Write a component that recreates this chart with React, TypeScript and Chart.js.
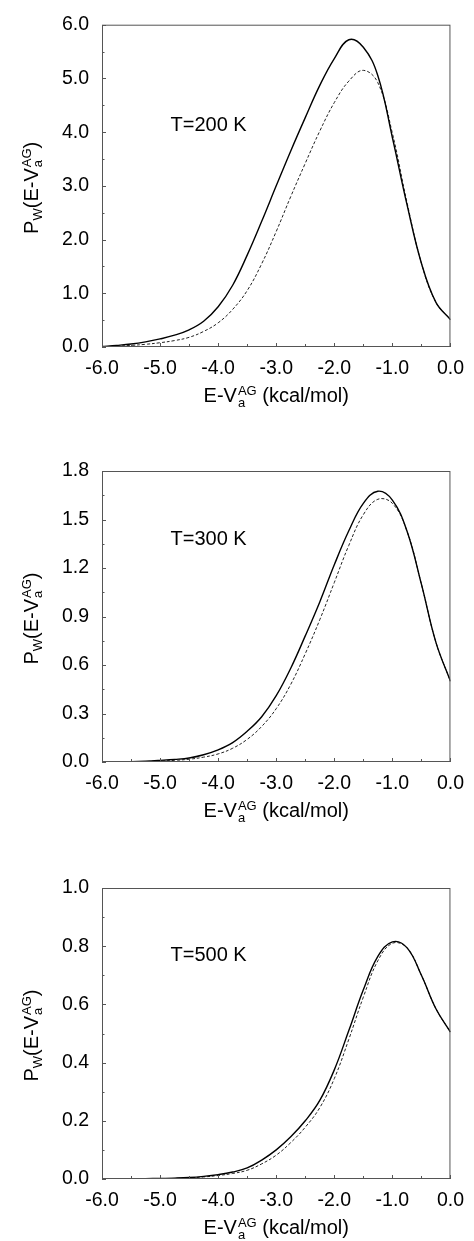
import React, { useEffect, useRef } from "react";
import { Chart, registerables } from "chart.js";

Chart.register(...registerables);

// ---------- data ----------
const xValues = [
  -6, -5.75, -5.5, -5.25, -5, -4.75, -4.5, -4.25, -4, -3.75, -3.5, -3.25, -3,
  -2.75, -2.5, -2.25, -2, -1.75, -1.5, -1.25, -1, -0.75, -0.5, -0.25, 0,
];

const solid200 = [
  0.01, 0.03, 0.055, 0.095, 0.15, 0.22, 0.32, 0.48, 0.75, 1.15, 1.71, 2.34, 3.0,
  3.65, 4.27, 4.87, 5.37, 5.72, 5.58, 5.05, 3.9, 2.66, 1.56, 0.83, 0.51,
];
const dashed200 = [
  0.005, 0.015, 0.03, 0.05, 0.08, 0.12, 0.18, 0.29, 0.45, 0.7, 1.05, 1.55,
  2.15, 2.8, 3.42, 4.02, 4.55, 4.95, 5.15, 4.92, 3.98, 2.7, 1.56, 0.83, 0.51,
];

const solid300 = [
  0.0, 0.001, 0.002, 0.005, 0.01, 0.016, 0.025, 0.045, 0.075, 0.12, 0.19, 0.28,
  0.41, 0.58, 0.78, 0.99, 1.22, 1.43, 1.6, 1.675, 1.62, 1.43, 1.1, 0.74, 0.5,
];
const dashed300 = [
  0.0, 0.0, 0.001, 0.003, 0.006, 0.01, 0.017, 0.03, 0.05, 0.085, 0.14, 0.22,
  0.33, 0.48, 0.67, 0.88, 1.11, 1.34, 1.53, 1.625, 1.6, 1.43, 1.1, 0.74, 0.5,
];

const solid500 = [
  0.0, 0.0, 0.0005, 0.001, 0.002, 0.003, 0.005, 0.009, 0.015, 0.024, 0.038,
  0.065, 0.1, 0.145, 0.2, 0.27, 0.375, 0.51, 0.65, 0.765, 0.815, 0.795, 0.7,
  0.585, 0.505,
];
const dashed500 = [
  0.0, 0.0, 0.0, 0.0005, 0.001, 0.002, 0.004, 0.007, 0.012, 0.019, 0.03,
  0.052, 0.082, 0.125, 0.178, 0.245, 0.345, 0.48, 0.625, 0.75, 0.81, 0.795,
  0.7, 0.585, 0.505,
];

const xTicks = [-6, -5, -4, -3, -2, -1, 0];
const yTicks200 = [0, 1, 2, 3, 4, 5, 6];
const yTicks300 = [0, 0.3, 0.6, 0.9, 1.2, 1.5, 1.8];
const yTicks500 = [0, 0.2, 0.4, 0.6, 0.8, 1.0];

const labels = ["T=200 K", "T=300 K", "T=500 K"];

// ---------- layout ----------
const FONT = '"Liberation Sans", Arial, Helvetica, sans-serif';
const f = (s: number) => `${s}px ${FONT}`;

type Panel = {
  canvasTop: number;
  canvasHeight: number;
  plotTop: number;
  plotBottom: number;
  yTicks: number[];
  solid: number[];
  dashed: number[];
  label: string;
  labelX: number;
  labelY: number;
};

const panels: Panel[] = [
  { canvasTop: 0, canvasHeight: 420, plotTop: 19, plotBottom: 347, yTicks: yTicks200, solid: solid200, dashed: dashed200, label: labels[0], labelX: -4.82, labelY: 4.02 },
  { canvasTop: 425, canvasHeight: 410, plotTop: 471, plotBottom: 762, yTicks: yTicks300, solid: solid300, dashed: dashed300, label: labels[1], labelX: -4.82, labelY: 1.345 },
  { canvasTop: 845, canvasHeight: 396, plotTop: 888, plotBottom: 1179, yTicks: yTicks500, solid: solid500, dashed: dashed500, label: labels[2], labelX: -4.82, labelY: 0.75 },
];

type Part = { t?: string; sup?: string; sub?: string; s: number; dy?: number };

const xTitle: Part[] = [
  { t: "E-V", s: 20 },
  { sup: "AG", sub: "a", s: 13 },
  { t: " (kcal/mol)", s: 20 },
];
const yTitle: Part[] = [
  { t: "P", s: 20 },
  { t: "W", s: 13, dy: 4.5 },
  { t: "(E-V", s: 20 },
  { sup: "AG", sub: "a", s: 13 },
  { t: ")", s: 20 },
];

function partsWidth(ctx: CanvasRenderingContext2D, parts: Part[]) {
  let w = 0;
  for (const p of parts) {
    ctx.font = f(p.s);
    if (p.t) w += ctx.measureText(p.t).width;
    else w += Math.max(ctx.measureText(p.sup || "").width, ctx.measureText(p.sub || "").width) + 1;
  }
  return w;
}

function drawParts(ctx: CanvasRenderingContext2D, parts: Part[], cx: number, y: number) {
  let x = cx - partsWidth(ctx, parts) / 2;
  ctx.textAlign = "left";
  ctx.textBaseline = "alphabetic";
  for (const p of parts) {
    ctx.font = f(p.s);
    if (p.t) {
      ctx.fillText(p.t, x, y + (p.dy || 0));
      x += ctx.measureText(p.t).width;
    } else {
      ctx.fillText(p.sup || "", x + 1, y - 7);
      ctx.fillText(p.sub || "", x + 1, y + 4.5);
      x += Math.max(ctx.measureText(p.sup || "").width, ctx.measureText(p.sub || "").width) + 1;
    }
  }
}

function makeDecor(p: Panel) {
  return {
    id: "decor",
    afterDraw(chart: any) {
      const ctx: CanvasRenderingContext2D = chart.ctx;
      const { left, right, top, bottom } = chart.chartArea;
      const xs = chart.scales.x;
      const ys = chart.scales.y;
      ctx.save();
      ctx.strokeStyle = "#555";
      ctx.lineWidth = 1;
      ctx.strokeRect(left + 0.5, top + 0.5, right - left - 1, bottom - top - 1);
      // ticks
      ctx.beginPath();
      for (let i = 0; i < xTicks.length; i++) {
        const px = Math.round(xs.getPixelForValue(xTicks[i])) + 0.5;
        ctx.moveTo(px, bottom);
        ctx.lineTo(px, bottom - 4);
        if (i < xTicks.length - 1) {
          const mx = Math.round(xs.getPixelForValue((xTicks[i] + xTicks[i + 1]) / 2)) + 0.5;
          ctx.moveTo(mx, bottom);
          ctx.lineTo(mx, bottom - 3);
        }
      }
      const yt = p.yTicks;
      for (let i = 0; i < yt.length; i++) {
        const py = Math.round(ys.getPixelForValue(yt[i])) + 0.5;
        ctx.moveTo(left, py);
        ctx.lineTo(left + 4, py);
        if (i < yt.length - 1) {
          const my = Math.round(ys.getPixelForValue((yt[i] + yt[i + 1]) / 2)) + 0.5;
          ctx.moveTo(left, my);
          ctx.lineTo(left + 2.5, my);
        }
      }
      ctx.stroke();
      ctx.fillStyle = "#000";
      // x title
      drawParts(ctx, xTitle, (left + right) / 2, bottom + 55);
      // y title
      ctx.save();
      ctx.translate(37.5, (top + bottom) / 2 + 2);
      ctx.rotate(-Math.PI / 2);
      drawParts(ctx, yTitle, 0, 0);
      ctx.restore();
      // temperature label
      ctx.font = f(20);
      ctx.textAlign = "left";
      ctx.textBaseline = "alphabetic";
      ctx.fillText(p.label, xs.getPixelForValue(p.labelX), ys.getPixelForValue(p.labelY));
      ctx.restore();
    },
  };
}

function makeConfig(p: Panel): any {
  const fmt = (v: any) => Number(v).toFixed(1);
  return {
    type: "line",
    data: {
      datasets: [
        {
          data: xValues.map((x, i) => ({ x, y: p.solid[i] })),
          borderColor: "#000",
          borderWidth: 1.4,
          pointRadius: 0,
          tension: 0.4,
          fill: false,
        },
        {
          data: xValues.map((x, i) => ({ x, y: p.dashed[i] })),
          borderColor: "#222",
          borderWidth: 1,
          borderDash: [3, 2],
          pointRadius: 0,
          tension: 0.4,
          fill: false,
        },
      ],
    },
    options: {
      animation: false,
      responsive: false,
      devicePixelRatio: 1,
      events: [],
      layout: { padding: { top: p.plotTop - p.canvasTop, right: 17, left: 0, bottom: 0 } },
      plugins: { legend: { display: false }, tooltip: { enabled: false } },
      scales: {
        x: {
          type: "linear",
          min: -6,
          max: 0,
          afterBuildTicks: (s: any) => {
            s.ticks = xTicks.map((v) => ({ value: v }));
          },
          afterFit: (s: any) => {
            s.height = p.canvasTop + p.canvasHeight - p.plotBottom;
          },
          grid: { display: false, drawTicks: false },
          border: { display: false },
          ticks: {
            color: "#000",
            font: { family: FONT, size: 19.5 },
            padding: 10,
            autoSkip: false,
            maxRotation: 0,
            callback: fmt,
          },
        },
        y: {
          type: "linear",
          min: p.yTicks[0],
          max: p.yTicks[p.yTicks.length - 1],
          afterBuildTicks: (s: any) => {
            s.ticks = p.yTicks.map((v) => ({ value: v }));
          },
          afterFit: (s: any) => {
            s.width = 102;
          },
          grid: { display: false, drawTicks: false },
          border: { display: false },
          ticks: {
            color: "#000",
            font: { family: FONT, size: 19.5 },
            padding: 13,
            autoSkip: false,
            callback: fmt,
          },
        },
      },
    },
    plugins: [makeDecor(p)],
  };
}

function PanelChart({ p }: { p: Panel }) {
  const ref = useRef<HTMLCanvasElement | null>(null);
  useEffect(() => {
    if (!ref.current) return;
    const chart = new Chart(ref.current, makeConfig(p));
    return () => chart.destroy();
  }, [p]);
  return (
    <canvas
      ref={ref}
      width={474}
      height={p.canvasHeight}
      style={{ position: "absolute", left: 0, top: p.canvasTop, width: 474, height: p.canvasHeight }}
    />
  );
}

export default function App() {
  return (
    <div style={{ position: "absolute", left: 0, top: 0, width: 474, height: 1241, background: "#fff", overflow: "hidden" }}>
      {panels.map((p, i) => (
        <PanelChart key={i} p={p} />
      ))}
    </div>
  );
}
